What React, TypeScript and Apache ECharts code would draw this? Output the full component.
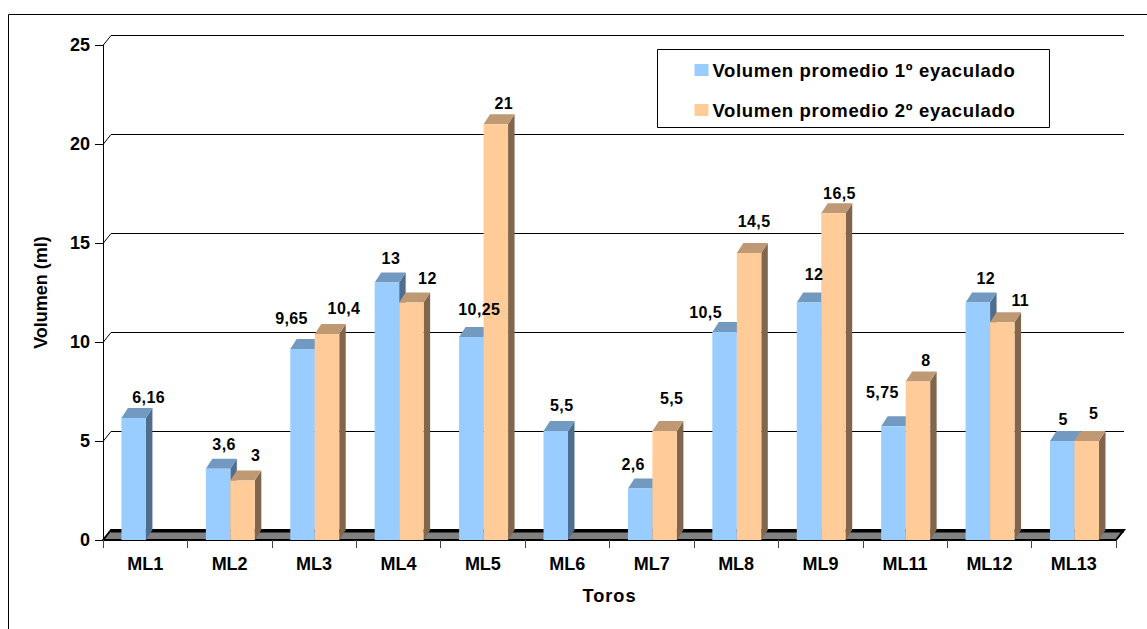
import React, { useEffect, useRef } from "react";
import * as echarts from "echarts";

const categories = ["ML1", "ML2", "ML3", "ML4", "ML5", "ML6", "ML7", "ML8", "ML9", "ML11", "ML12", "ML13"];
const serie1 = [6.16, 3.6, 9.65, 13, 10.25, 5.5, 2.6, 10.5, 12, 5.75, 12, 5];
const serie2 = [null, 3, 10.4, 12, 21, null, 5.5, 14.5, 16.5, 8, 11, 5];
const yTicks = [0, 5, 10, 15, 20, 25];
const name1 = "Volumen promedio 1º eyaculado";
const name2 = "Volumen promedio 2º eyaculado";

// hand placement of each value label relative to its bar's front-top centre
const labelDx1 = [15, 6, -11, 4, 8, 6, -7, -19, 5, -11, 8, 1];
const labelDy1 = [-21, -24, -30, -24, -28, -26, -24, -20, -28, -34, -24, -22];
const labelDx2 = [0, 13, 17, 16, 8, 0, 7, 5, 6, 8, 18, 7];
const labelDy2 = [0, -25, -26, -24, -21, 0, -33, -31, -20, -21, -22, -28];

const FONT = "'Liberation Sans', Arial, sans-serif";
const DX = 6.5;
const DY = 10;
const WALL_DX = 8;
const BAR_RATIO = 0.29;
const SHIFT = 0.7;

function barGeom(api: any, v: number, i: number, dir: number) {
  const band = api.size([1, 0])[0];
  const w = band * BAR_RATIO;
  const c = api.coord([categories[i], v]);
  const b = api.coord([categories[i], 0]);
  const x0 = (dir < 0 ? c[0] - w : c[0]) + SHIFT;
  return { x0, x1: x0 + w, y: c[1], base: b[1], w };
}

function barRenderer(values: (number | null)[], dir: number, front: string, top: string, side: string) {
  return (_p: any, api: any) => {
    const i = api.value(0);
    const v = values[i];
    if (v == null) return { type: "group", children: [] };
    const { x0, x1, y, base, w } = barGeom(api, v, i, dir);
    return {
      type: "group",
      children: [
        { type: "polygon", shape: { points: [[x1, y], [x1 + DX, y - DY], [x1 + DX, base - DY], [x1, base]] }, style: { fill: side } },
        { type: "polygon", shape: { points: [[x0, y], [x0 + DX, y - DY], [x1 + DX, y - DY], [x1, y]] }, style: { fill: top } },
        { type: "rect", shape: { x: x0, y, width: w, height: base - y }, style: { fill: front } },
      ],
    };
  };
}

function labelRenderer(values: (number | null)[], dir: number, ldx: number[], ldy: number[]) {
  return (_p: any, api: any) => {
    const i = api.value(0);
    const v = values[i];
    if (v == null) return { type: "group", children: [] };
    const { x0, x1, y } = barGeom(api, v, i, dir);
    return {
      type: "text",
      x: (x0 + x1) / 2 + ldx[i],
      y: y + ldy[i],
      style: { text: String(v).replace(".", ","), fill: "#000", font: `bold 16px ${FONT}`, textAlign: "center", textVerticalAlign: "middle" },
    };
  };
}

export default function App() {
  const ref = useRef<HTMLDivElement>(null);
  useEffect(() => {
    const chart = echarts.init(ref.current!, null, { renderer: "svg" });
    const idx = categories.map((_, i) => i);
    const d1 = idx.map((i) => [i, serie1[i]]);
    const d2 = idx.map((i) => [i, serie2[i] ?? 0]);
    chart.setOption({
      animation: false,
      backgroundColor: "#fff",
      grid: { left: 103, right: 31, top: 45, bottom: 89 },
      graphic: [
        { type: "rect", shape: { x: 8.5, y: 14.5, width: 1160, height: 640 }, style: { fill: "none", stroke: "#000", lineWidth: 1 }, silent: true, z: -1 },
      ],
      legend: {
        left: 657.5,
        top: 49.5,
        orient: "vertical",
        backgroundColor: "#fff",
        borderColor: "#000",
        borderWidth: 1,
        padding: [11, 53, 8, 37],
        itemGap: 21,
        itemWidth: 14,
        itemHeight: 12,
        icon: "rect",
        data: [name1, name2],
        textStyle: { fontFamily: FONT, fontWeight: "bold", fontSize: 18.5, color: "#000", padding: [0, 0, 0, -1] },
        z: 20,
      },
      xAxis: {
        type: "category",
        data: categories,
        name: "Toros",
        nameLocation: "middle",
        nameGap: 47,
        nameTextStyle: { fontFamily: FONT, fontWeight: "bold", fontSize: 18.2, color: "#000" },
        axisLine: { show: true, onZero: false, lineStyle: { color: "#000", width: 1 } },
        axisTick: { show: true, length: 8, lineStyle: { color: "#444" } },
        axisLabel: { fontFamily: FONT, fontWeight: "bold", fontSize: 18, color: "#000", margin: 15 },
        z: 10,
      },
      yAxis: {
        type: "value",
        min: 0,
        max: 25,
        interval: 5,
        name: "Volumen (ml)",
        nameLocation: "middle",
        nameGap: 53,
        nameTextStyle: { fontFamily: FONT, fontWeight: "bold", fontSize: 18, color: "#000" },
        splitLine: { show: false },
        axisLine: { show: true, lineStyle: { color: "#000", width: 1 } },
        axisTick: { show: true, length: 8, lineStyle: { color: "#000" } },
        axisLabel: { fontFamily: FONT, fontWeight: "bold", fontSize: 18, color: "#000", margin: 13 },
        z: 10,
      },
      series: [
        {
          type: "custom",
          silent: true,
          z: 1,
          coordinateSystem: "cartesian2d",
          data: yTicks.filter((t) => t > 0).map((t) => [categories[0], t]),
          encode: { x: 0, y: 1 },
          renderItem: (_p: any, api: any) => {
            const c = api.coord([categories[0], api.value(1)]);
            const band = api.size([1, 0])[0];
            const left = c[0] - band / 2;
            const right = left + band * categories.length;
            const y = Math.round(c[1]) + 0.5;
            return {
              type: "polyline",
              shape: { points: [[left, y], [left + WALL_DX, y - DY], [right + WALL_DX, y - DY]] },
              style: { fill: "none", stroke: "#000", lineWidth: 1 },
            };
          },
        },
        {
          type: "custom",
          silent: true,
          z: 2,
          coordinateSystem: "cartesian2d",
          data: [[categories[0], 0]],
          encode: { x: 0, y: 1 },
          renderItem: (_p: any, api: any) => {
            const c = api.coord([categories[0], 0]);
            const band = api.size([1, 0])[0];
            const left = c[0] - band / 2;
            const right = left + band * categories.length;
            return {
              type: "group",
              children: [
                {
                  type: "polygon",
                  shape: { points: [[left, c[1]], [left + WALL_DX, c[1] - DY], [right + WALL_DX, c[1] - DY], [right, c[1]]] },
                  style: { fill: "#808080", stroke: "#000", lineWidth: 2 },
                },
                {
                  type: "line",
                  shape: { x1: left + WALL_DX, y1: c[1] - DY + 1, x2: right + WALL_DX, y2: c[1] - DY + 1 },
                  style: { stroke: "#000", lineWidth: 3 },
                },
              ],
            };
          },
        },
        {
          type: "custom",
          name: name1,
          z: 3,
          itemStyle: { color: "#99CCFF" },
          coordinateSystem: "cartesian2d",
          data: d1,
          encode: { x: 0, y: 1 },
          renderItem: barRenderer(serie1, -1, "#99CCFF", "#7299C0", "#4F6D8E"),
        },
        {
          type: "custom",
          name: name2,
          z: 4,
          itemStyle: { color: "#FFCC99" },
          coordinateSystem: "cartesian2d",
          data: d2,
          encode: { x: 0, y: 1 },
          renderItem: barRenderer(serie2, 1, "#FFCC99", "#BF9973", "#80664D"),
        },
        {
          type: "custom",
          silent: true,
          z: 5,
          coordinateSystem: "cartesian2d",
          data: d1,
          encode: { x: 0, y: 1 },
          renderItem: labelRenderer(serie1, -1, labelDx1, labelDy1),
        },
        {
          type: "custom",
          silent: true,
          z: 5,
          coordinateSystem: "cartesian2d",
          data: d2,
          encode: { x: 0, y: 1 },
          renderItem: labelRenderer(serie2, 1, labelDx2, labelDy2),
        },
      ],
    });
    return () => chart.dispose();
  }, []);
  return (
    <>
      <style>{`html,body{margin:0;padding:0;overflow:hidden}
svg text[style*="18.5px"]{letter-spacing:0.65px}
svg text[style*="18.2px"]{letter-spacing:1px}
svg text[style*="bold 16px"]{letter-spacing:0.4px}`}</style>
      <div ref={ref} style={{ position: "fixed", left: 0, top: 0, width: 1147, height: 629 }} />
    </>
  );
}
